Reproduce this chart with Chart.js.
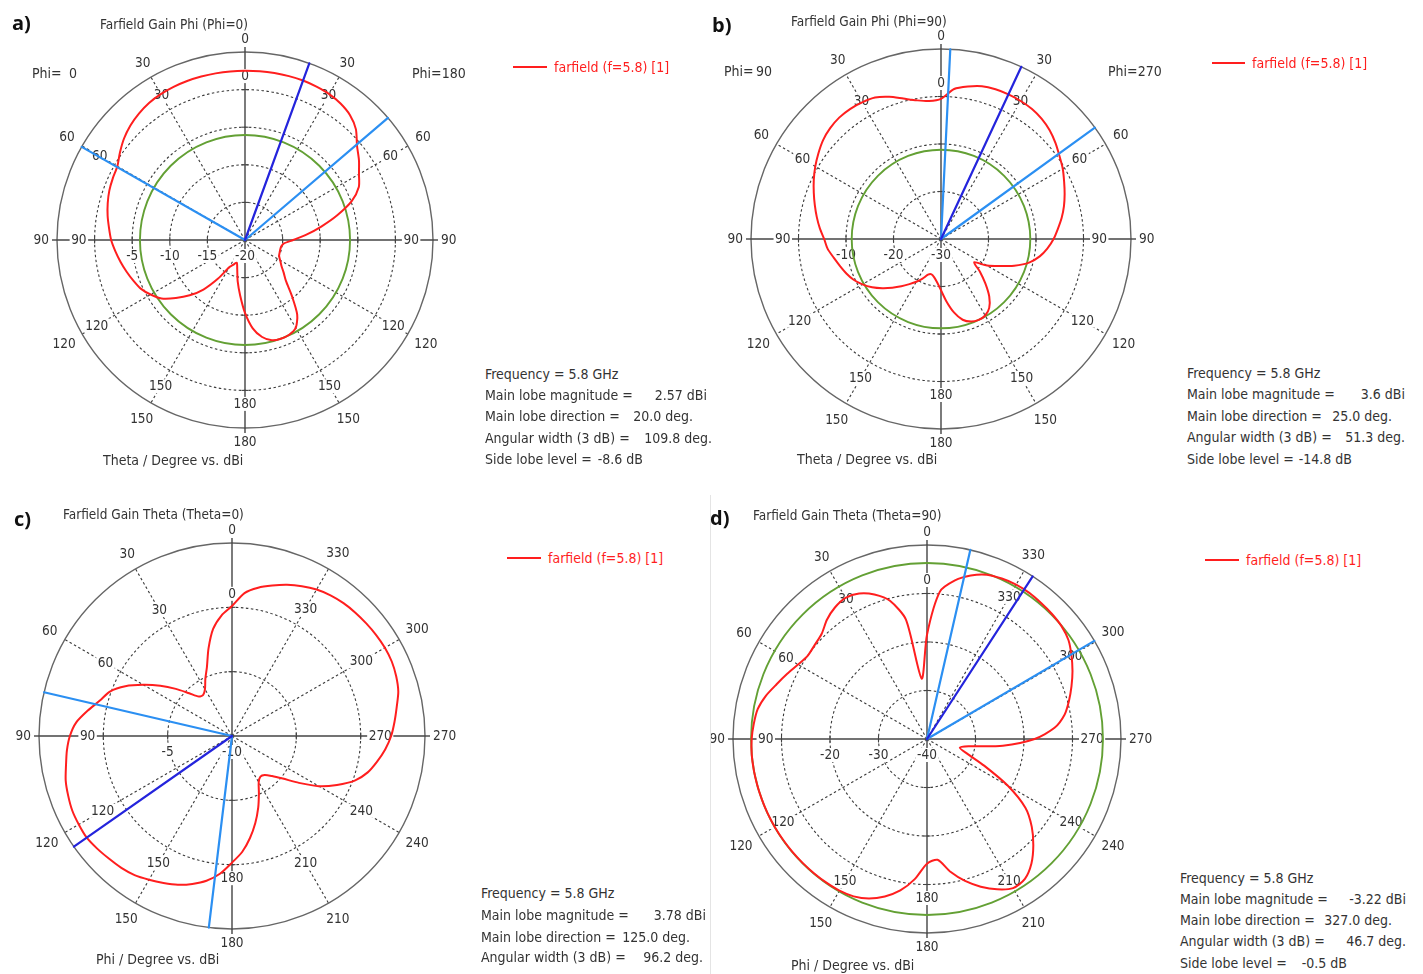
<!DOCTYPE html>
<html lang="en">
<head>
<meta charset="utf-8">
<title>Farfield gain cuts at 5.8 GHz</title>
<script src="https://cdn.jsdelivr.net/npm/chart.js@4.4.1/dist/chart.umd.min.js"></script>
<style>
  html, body { margin: 0; padding: 0; background: #fff; }
  #page { position: relative; width: 1423px; height: 974px; overflow: hidden;
          font-family: "DejaVu Sans Condensed", "DejaVu Sans", sans-serif; font-stretch: condensed; color: #333; }
  #page canvas { position: absolute; }
  .t { position: absolute; font-size: 14px; line-height: 16px; white-space: pre; }
  .h { font-size: 13.5px; }
  .tag { position: absolute; font-family: "Open Sans", "Liberation Sans", sans-serif; font-stretch: normal; font-weight: 700;
         font-size: 20px; line-height: 24px; color: #111; }
  .key { position: absolute; height: 2px; background: #ff1e1e; }
  .red { color: #ff1e1e; }
  .sep { position: absolute; left: 710px; top: 495px; width: 1px; height: 479px; background: #e4e4e4; }
</style>
</head>
<body>
<div id="page">
  <canvas id="cutPhi0" width="480" height="480" style="left:0px;top:0px"></canvas>
  <canvas id="cutPhi90" width="480" height="480" style="left:700px;top:0px"></canvas>
  <canvas id="cutTheta0" width="480" height="479" style="left:0px;top:495px"></canvas>
  <canvas id="cutTheta90" width="480" height="479" style="left:700px;top:495px"></canvas>
  <div class="sep"></div>

  <!-- a) Phi = 0 cut -->
  <div class="tag" style="left:12px;top:11px">a)</div>
  <div class="t h" style="left:100px;top:16px">Farfield Gain Phi (Phi=0)</div>
  <div class="t" style="left:32px;top:65px">Phi=</div>
  <div class="t" style="right:1346px;top:65px">0</div>
  <div class="t" style="left:412px;top:65px">Phi=180</div>
  <div class="t" style="left:103px;top:452px">Theta / Degree vs. dBi</div>
  <div class="key" style="left:513px;top:66px;width:34px"></div>
  <div class="t red" style="left:554px;top:59px">farfield (f=5.8) [1]</div>
  <div class="t" style="left:485px;top:366px">Frequency = 5.8 GHz</div>
  <div class="t" style="left:485px;top:387px">Main lobe magnitude =</div>
  <div class="t" id="mag0" style="right:716px;top:387px"></div>
  <div class="t" style="left:485px;top:408px">Main lobe direction =</div>
  <div class="t" id="dir0" style="right:730px;top:408px"></div>
  <div class="t" style="left:485px;top:430px">Angular width (3 dB) =</div>
  <div class="t" id="wid0" style="right:711px;top:430px"></div>
  <div class="t" style="left:485px;top:451px">Side lobe level =</div>
  <div class="t" id="sll0" style="right:780px;top:451px"></div>

  <!-- b) Phi = 90 cut -->
  <div class="tag" style="left:712px;top:13px">b)</div>
  <div class="t h" style="left:791px;top:13px">Farfield Gain Phi (Phi=90)</div>
  <div class="t" style="left:724px;top:63px">Phi=</div>
  <div class="t" style="right:651px;top:63px">90</div>
  <div class="t" style="left:1108px;top:63px">Phi=270</div>
  <div class="t" style="left:797px;top:451px">Theta / Degree vs. dBi</div>
  <div class="key" style="left:1212px;top:62px;width:33px"></div>
  <div class="t red" style="left:1252px;top:55px">farfield (f=5.8) [1]</div>
  <div class="t" style="left:1187px;top:365px">Frequency = 5.8 GHz</div>
  <div class="t" style="left:1187px;top:386px">Main lobe magnitude =</div>
  <div class="t" id="mag1" style="right:18px;top:386px"></div>
  <div class="t" style="left:1187px;top:408px">Main lobe direction =</div>
  <div class="t" id="dir1" style="right:31px;top:408px"></div>
  <div class="t" style="left:1187px;top:429px">Angular width (3 dB) =</div>
  <div class="t" id="wid1" style="right:18px;top:429px"></div>
  <div class="t" style="left:1187px;top:451px">Side lobe level =</div>
  <div class="t" id="sll1" style="right:71px;top:451px"></div>

  <!-- c) Theta = 0 cut -->
  <div class="tag" style="left:14px;top:507px">c)</div>
  <div class="t h" style="left:63px;top:506px">Farfield Gain Theta (Theta=0)</div>
  <div class="t" style="left:96px;top:951px">Phi / Degree vs. dBi</div>
  <div class="key" style="left:507px;top:557px;width:34px"></div>
  <div class="t red" style="left:548px;top:550px">farfield (f=5.8) [1]</div>
  <div class="t" style="left:481px;top:885px">Frequency = 5.8 GHz</div>
  <div class="t" style="left:481px;top:907px">Main lobe magnitude =</div>
  <div class="t" id="mag2" style="right:717px;top:907px"></div>
  <div class="t" style="left:481px;top:929px">Main lobe direction =</div>
  <div class="t" id="dir2" style="right:733px;top:929px"></div>
  <div class="t" style="left:481px;top:949px">Angular width (3 dB) =</div>
  <div class="t" id="wid2" style="right:720px;top:949px"></div>

  <!-- d) Theta = 90 cut -->
  <div class="tag" style="left:710px;top:506px">d)</div>
  <div class="t h" style="left:753px;top:507px">Farfield Gain Theta (Theta=90)</div>
  <div class="t" style="left:791px;top:957px">Phi / Degree vs. dBi</div>
  <div class="key" style="left:1205px;top:559px;width:34px"></div>
  <div class="t red" style="left:1246px;top:552px">farfield (f=5.8) [1]</div>
  <div class="t" style="left:1180px;top:870px">Frequency = 5.8 GHz</div>
  <div class="t" style="left:1180px;top:891px">Main lobe magnitude =</div>
  <div class="t" id="mag3" style="right:17px;top:891px"></div>
  <div class="t" style="left:1180px;top:912px">Main lobe direction =</div>
  <div class="t" id="dir3" style="right:31px;top:912px"></div>
  <div class="t" style="left:1180px;top:933px">Angular width (3 dB) =</div>
  <div class="t" id="wid3" style="right:17px;top:933px"></div>
  <div class="t" style="left:1180px;top:955px">Side lobe level =</div>
  <div class="t" id="sll3" style="right:76px;top:955px"></div>
</div>

<script>
// Sample angles, 5 degrees apart.
const angleDeg = [0,5,10,15,20,25,30,35,40,45,50,55,60,65,70,75,80,85,90,95,
  100,105,110,115,120,125,130,135,140,145,150,155,160,165,170,175,180,185,190,195,
  200,205,210,215,220,225,230,235,240,245,250,255,260,265,270,275,280,285,290,295,
  300,305,310,315,320,325,330,335,340,345,350,355];

// Gain (dBi) in the Phi = 0 / 180 plane, by plot angle (clockwise from the top).
const gainPhi0 = [
  2.50, 2.52, 2.54, 2.56, 2.57, 2.50, 2.40, 2.15, 1.70, 0.85,
  -0.55, -1.50, -2.50, -3.30, -4.90, -7.30, -9.70, -11.80, -13.60, -14.80,
  -15.10, -15.15, -15.10, -15.00, -14.60, -14.10, -13.30, -12.30, -10.30, -7.90,
  -6.50, -6.10, -6.03, -6.20, -6.90, -8.20, -10.30, -12.60, -14.40, -16.00,
  -16.80, -16.40, -15.80, -13.70, -11.40, -9.60, -8.00, -6.45, -5.50, -4.70,
  -4.20, -3.70, -3.20, -2.70, -2.20, -1.85, -1.45, -1.10, -0.80, -0.60,
  -0.40, 0.30, 1.00, 1.55, 1.95, 2.25, 2.40, 2.47, 2.50, 2.50,
  2.50, 2.50];

// Gain (dBi) in the Phi = 90 / 270 plane, by plot angle (clockwise from the top).
const gainPhi90 = [
  -0.50, 1.70, 2.60, 3.30, 3.55, 3.60, 3.55, 3.40, 3.00, 2.35,
  1.45, 0.45, -0.40, -1.40, -2.30, -3.20, -4.20, -5.30, -6.30, -7.50,
  -8.90, -10.80, -13.60, -16.50, -18.80, -21.50, -19.30, -16.80, -14.20, -12.30,
  -11.40, -11.20, -11.50, -12.40, -14.30, -16.80, -19.20, -20.80, -21.80, -22.30,
  -22.00, -20.80, -19.60, -18.40, -17.00, -15.50, -13.90, -12.30, -10.90, -9.70,
  -8.80, -8.00, -7.10, -6.05, -5.40, -4.40, -3.45, -2.50, -1.50, -0.45,
  0.56, 1.50, 2.40, 3.00, 3.35, 3.40, 3.20, 2.85, 1.85, 0.60,
  -0.35, -0.85];

// Gain (dBi) in the Theta = 0 plane, by phi (counter-clockwise from the top).
const gainTheta0 = [
  0.10, -0.60, -1.55, -2.95, -4.30, -5.10, -5.80, -6.10, -6.00, -5.30,
  -4.30, -3.20, -2.05, -0.85, 0.10, 0.63, 1.38, 2.15, 2.60, 2.88,
  3.10, 3.38, 3.55, 3.70, 3.75, 3.78, 3.65, 3.50, 3.38, 3.20,
  2.90, 2.60, 2.30, 1.90, 1.42, 0.75, -0.16, -0.95, -1.95, -3.00,
  -4.05, -5.05, -5.85, -6.15, -6.05, -5.60, -4.85, -3.65, -2.20, -1.00,
  0.15, 0.92, 1.45, 1.95, 2.37, 2.68, 3.00, 3.38, 3.58, 3.70,
  3.72, 3.68, 3.62, 3.56, 3.48, 3.35, 3.15, 2.85, 2.50, 2.10,
  1.70, 1.15];

// Gain (dBi) in the Theta = 90 plane, by phi (counter-clockwise from the top).
const gainTheta90 = [
  -18.50, -27.50, -15.00, -10.50, -8.30, -6.90, -6.40, -6.90, -7.90, -9.30,
  -9.80, -10.00, -9.30, -8.20, -7.00, -5.60, -4.55, -4.15, -3.85, -3.72,
  -3.72, -3.73, -3.74, -3.75, -3.76, -3.77, -3.78, -3.80, -3.82, -3.85,
  -3.90, -4.20, -5.00, -6.40, -8.30, -11.00, -14.30, -15.00, -12.20, -9.70,
  -7.60, -5.80, -4.50, -4.80, -6.50, -9.00, -11.80, -15.20, -20.80, -27.00,
  -31.20, -33.00, -31.30, -24.30, -17.80, -13.60, -11.20, -9.70, -8.30, -6.90,
  -5.60, -4.40, -3.80, -3.55, -3.40, -3.23, -3.25, -3.50, -3.95, -5.10,
  -6.80, -9.50];

// Ring (dB) ticks of each plot, centre to rim.
const ringsPhi0 = [-20, -15, -10, -5, 0, 5];
const ringsPhi90 = [-30, -20, -10, 0, 10];
const ringsTheta0 = [-10, -5, 0, 5];
const ringsTheta90 = [-40, -30, -20, -10, 0];

// Main lobe summary, one entry per plot (a, b, c, d).
const mainLobeMag = [2.57, 3.6, 3.78, -3.22];        // dBi
const mainLobeDir = [20.0, 25.0, 125.0, 327.0];      // deg
const beamWidth3dB = [109.8, 51.3, 96.2, 46.7];      // deg
const beamEdgeLow = [-60.3, 2.8, 76.9, 300.4];       // deg, first -3 dB edge
const sideLobeLevel = [-8.6, -14.8, null, -0.5];     // dB below the main lobe

const RED = '#ff1e1e', GREEN = '#63a034', DARK_BLUE = '#2424dc', LIGHT_BLUE = '#2b8ff2';
const AXIS = '#444444', DOTS = '#3a3a3a', RIM = '#666666', INK = '#333333';
const LABEL_FONT = '13.5px "DejaVu Sans Condensed", "DejaVu Sans", sans-serif';

function drawLabel(ctx, txt, x, y, w) {
  ctx.fillStyle = '#ffffff';
  ctx.fillRect(x - w / 2 - 1.5, y - 7, w + 3, 14);
  ctx.fillStyle = INK;
  ctx.fillText(txt, x, y + 0.5);
}

// Angle labels, ring values, axis ticks, side-lobe circle and beam lines on the radial scale.
const polarDecor = {
  id: 'polarDecor',
  beforeDatasetsDraw(chart, _args, o) {
    const s = chart.scales.r, ctx = chart.ctx;
    const n = chart.data.labels.length, quarter = n / 4, R = s.drawingArea;
    ctx.save();
    ctx.setLineDash([]);
    ctx.strokeStyle = AXIS;
    ctx.lineWidth = 1.4;
    for (let q = 0; q < 4; q++) {
      const a = s.getPointPosition(q * quarter, R), b = s.getPointPosition(q * quarter, R + 5);
      ctx.beginPath(); ctx.moveTo(a.x, a.y); ctx.lineTo(b.x, b.y); ctx.stroke();
    }
    ctx.lineWidth = 1.1;
    s.ticks.forEach(t => {
      if (t.value <= s.min || t.value >= s.max) return;
      const d = s.getDistanceFromCenterForValue(t.value);
      for (let q = 0; q < 4; q++) {
        const p = s.getPointPosition(q * quarter, d);
        const ux = -Math.sin(p.angle) * 3.5, uy = Math.cos(p.angle) * 3.5;
        ctx.beginPath(); ctx.moveTo(p.x - ux, p.y - uy); ctx.lineTo(p.x + ux, p.y + uy); ctx.stroke();
      }
    });

    ctx.font = LABEL_FONT;
    ctx.textAlign = 'center';
    ctx.textBaseline = 'middle';
    const inner = s.getDistanceFromCenterForValue(o.labelRing);
    for (let i = 0; i < n; i += n / 12) {
      const txt = String(chart.data.labels[i]);
      const w = ctx.measureText(txt).width;
      const th = s.getIndexAngle(i);
      const gap = 8 + Math.abs(Math.sin(th)) * w / 2 + Math.abs(Math.cos(th)) * 5.5;
      [inner, R].forEach(base => {
        const p = s.getPointPosition(i, base + gap);
        drawLabel(ctx, txt, p.x, p.y, w);
      });
    }
    o.ringLabels.forEach(v => {
      const p = s.getPointPosition(3 * quarter, s.getDistanceFromCenterForValue(v));
      const txt = String(v);
      drawLabel(ctx, txt, p.x, p.y + 16, ctx.measureText(txt).width);
    });

    if (o.sideLobe !== null) {
      ctx.strokeStyle = GREEN;
      ctx.lineWidth = 1.9;
      ctx.beginPath();
      ctx.arc(s.xCenter, s.yCenter, s.getDistanceFromCenterForValue(o.sideLobe), 0, Math.PI * 2);
      ctx.stroke();
    }
    ctx.restore();
  },
  afterDatasetsDraw(chart, _args, o) {
    const s = chart.scales.r, ctx = chart.ctx;
    const n = chart.data.labels.length, R = s.drawingArea;
    const ray = (deg, color) => {
      const idx = (((deg % 360) + 360) % 360) / (360 / n);
      const p = s.getPointPosition(idx, R);
      ctx.strokeStyle = color;
      ctx.beginPath(); ctx.moveTo(s.xCenter, s.yCenter); ctx.lineTo(p.x, p.y); ctx.stroke();
    };
    ctx.save();
    ctx.setLineDash([]);
    ctx.lineWidth = 2.2;
    ctx.lineCap = 'round';
    o.edges.forEach(d => ray(d, LIGHT_BLUE));
    ray(o.main, DARK_BLUE);
    ctx.restore();
  }
};

// Theta cuts are labelled 0..180 on both halves; phi cuts run counter-clockwise.
const labelsPhiCut = angleDeg.map(a => (a <= 180 ? a : 360 - a));
const labelsThetaCut = angleDeg.map(a => (360 - a) % 360);
const phiToScreen = phi => (360 - phi) % 360;

function polarChart(id, geom, rings, labels, values, decor) {
  const cv = document.getElementById(id);
  const lo = rings[0], hi = rings[rings.length - 1];
  const pad = { left: geom.cx - geom.R, top: geom.cy - geom.R };
  pad.right = cv.width - pad.left - 2 * geom.R;
  pad.bottom = cv.height - pad.top - 2 * geom.R;
  return new Chart(cv, {
    type: 'radar',
    data: {
      labels: labels,
      datasets: [{
        label: 'farfield (f=5.8) [1]',
        data: values,
        borderColor: RED,
        borderWidth: 2,
        pointRadius: 0,
        pointHitRadius: 0,
        fill: false,
        tension: 0.25,
        borderJoinStyle: 'round'
      }]
    },
    options: {
      responsive: false,
      animation: false,
      events: [],
      layout: { padding: pad },
      plugins: {
        legend: { display: false },
        tooltip: { enabled: false },
        polarDecor: decor
      },
      scales: {
        r: {
          min: lo,
          max: hi,
          startAngle: 0,
          ticks: { display: false, stepSize: rings[1] - rings[0] },
          pointLabels: { display: false },
          grid: {
            circular: true,
            color: c => (c.tick && c.tick.value === hi ? RIM : DOTS),
            lineWidth: c => (c.tick && c.tick.value === hi ? 1.4 : 1.1)
          },
          border: { dash: c => (c.tick && c.tick.value === hi ? [] : [2.5, 2.5]) },
          angleLines: {
            color: c => (c.index % 18 === 0 ? AXIS : DOTS),
            lineWidth: c => (c.index % 18 === 0 ? 1.4 : (c.index % 6 === 0 ? 1.1 : 0)),
            borderDash: c => (c.index % 18 === 0 ? [] : [2.5, 2.5])
          },
          afterFit: sc => {
            sc.xCenter = sc.left + sc.width / 2;
            sc.yCenter = sc.top + sc.height / 2;
            sc.drawingArea = Math.min(sc.width, sc.height) / 2;
          }
        }
      }
    },
    plugins: [polarDecor]
  });
}

function decorFor(k, rings, toScreen) {
  const sll = sideLobeLevel[k];
  return {
    labelRing: rings[rings.length - 2],
    ringLabels: rings.slice(0, -2),
    sideLobe: sll === null ? null : mainLobeMag[k] + sll,
    main: toScreen(mainLobeDir[k]),
    edges: [toScreen(beamEdgeLow[k]), toScreen(beamEdgeLow[k] + beamWidth3dB[k])]
  };
}

const sameAngle = a => a;
const onScreenByPhi = series => angleDeg.map(a => series[angleDeg.indexOf((360 - a) % 360)]);

polarChart('cutPhi0', { cx: 245, cy: 240, R: 188 }, ringsPhi0, labelsPhiCut, gainPhi0,
  decorFor(0, ringsPhi0, sameAngle));
polarChart('cutPhi90', { cx: 241, cy: 239, R: 190 }, ringsPhi90, labelsPhiCut, gainPhi90,
  decorFor(1, ringsPhi90, sameAngle));
polarChart('cutTheta0', { cx: 232, cy: 241, R: 193 }, ringsTheta0, labelsThetaCut, onScreenByPhi(gainTheta0),
  decorFor(2, ringsTheta0, phiToScreen));
polarChart('cutTheta90', { cx: 227, cy: 244, R: 194 }, ringsTheta90, labelsThetaCut, onScreenByPhi(gainTheta90),
  decorFor(3, ringsTheta90, phiToScreen));

// Summary text
for (let k = 0; k < 4; k++) {
  document.getElementById('mag' + k).textContent = String(mainLobeMag[k]) + ' dBi';
  document.getElementById('dir' + k).textContent = mainLobeDir[k].toFixed(1) + ' deg.';
  document.getElementById('wid' + k).textContent = beamWidth3dB[k].toFixed(1) + ' deg.';
  const el = document.getElementById('sll' + k);
  if (el && sideLobeLevel[k] !== null) el.textContent = sideLobeLevel[k].toFixed(1) + ' dB';
}
</script>
</body>
</html>
